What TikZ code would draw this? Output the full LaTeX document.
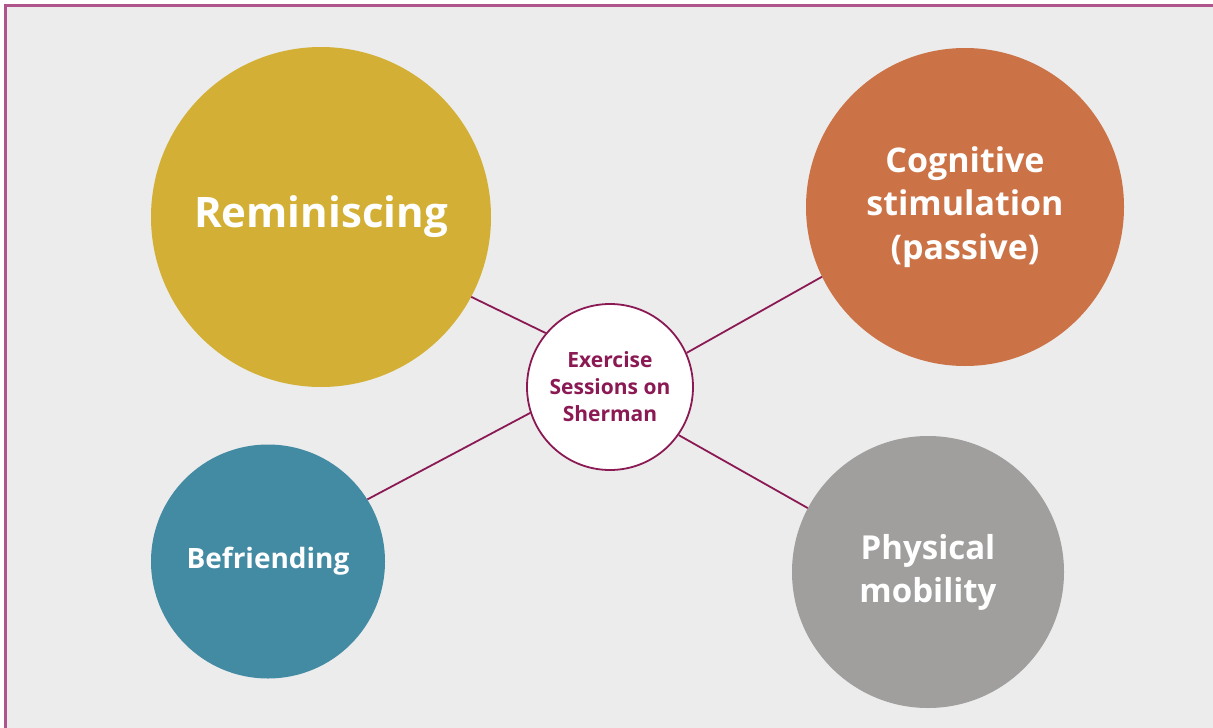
\documentclass[tikz,border=0pt]{standalone}
\usepackage{fontspec}
\setmainfont{Open Sans}
\definecolor{bg}{RGB}{236,236,236}
\definecolor{frame}{RGB}{176,84,140}
\definecolor{plum}{RGB}{139,26,84}
\definecolor{gold}{RGB}{211,176,53}
\definecolor{rust}{RGB}{203,115,70}
\definecolor{teal}{RGB}{67,138,163}
\definecolor{stone}{RGB}{160,159,157}
\tikzset{
  bubble/.style={circle, inner sep=0pt, text=white, font=\bfseries, align=center},
  link/.style={draw=plum, line width=1.8pt},
}
\begin{document}
\begin{tikzpicture}[x=1pt,y=-1pt]
\useasboundingbox (0,0) rectangle (1213,728);
\fill[white] (0,0) rectangle (1213,728);
\fill[bg] (5.5,5.5) rectangle (1213,728);
\draw[frame, line width=2.4pt] (5.5,728) -- (5.5,5.5) -- (1213,5.5);
\node[bubble, fill=gold, minimum size=340pt, font=\bfseries\fontsize{42}{48}\selectfont] (rem) at (321,217) {Reminiscing};
\node[bubble, fill=rust, minimum size=318pt, font=\bfseries\fontsize{34}{43.5}\selectfont] (cog) at (965,207) {Cognitive\\stimulation\\(passive)};
\node[bubble, fill=teal, minimum size=234pt, font=\bfseries\fontsize{28}{32}\selectfont] (bef) at (268,561.5) {Befriending};
\node[bubble, fill=stone, minimum size=272pt, font=\bfseries\fontsize{33}{43}\selectfont] (phy) at (928,572) {Physical\\mobility};
\node[circle, fill=white, draw=plum, line width=1.8pt, minimum size=166pt, inner sep=0pt, text=plum, align=center, font=\bfseries\fontsize{21}{27}\selectfont] (hub) at (610,387) {Exercise\\Sessions on\\Sherman};
\draw[link] (hub.140.8) -- (rem.-28.2);
\draw[link] (hub.24.4) -- (cog.206.7);
\draw[link] (hub.198.2) -- (bef.32.4);
\draw[link] (hub.-35.8) -- (phy.152.7);
\end{tikzpicture}
\end{document}
